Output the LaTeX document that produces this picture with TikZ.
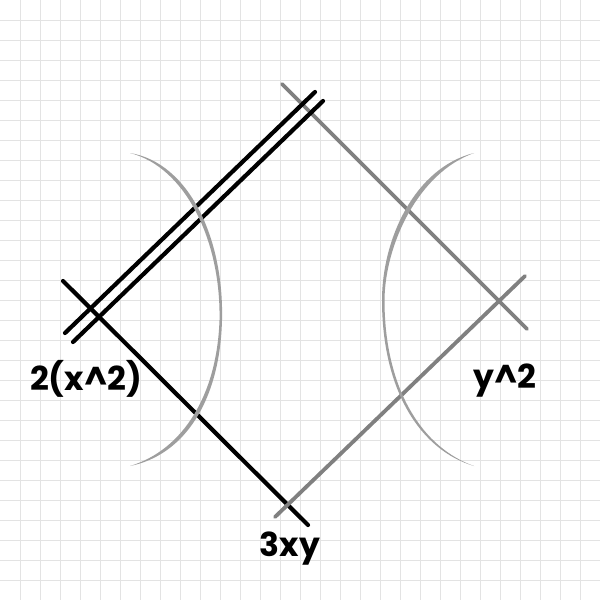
\documentclass[tikz,border=0pt]{standalone}
\usepackage{fontspec}
\setmainfont{Poppins}
\begin{document}
\begin{tikzpicture}[x=1pt,y=-1pt,
  gridline/.style={draw=black!11,line width=0.9pt},
  blackline/.style={draw=black,line width=4.2pt,line cap=round},
  grayline/.style={draw=black!50,line width=3.8pt,line cap=round},
  arcline/.style={fill=black!38,draw=none},
  lbl/.style={font=\fontsize{33}{36}\selectfont\bfseries,text=black,inner sep=0pt}]
\useasboundingbox (0,0) rectangle (600,600);
\fill[white] (0,0) rectangle (600,600);
\foreach \i in {20,40,...,580}{
  \draw[gridline] (\i,0) -- (\i,600);
  \draw[gridline] (0,\i) -- (600,\i);
}
% endpoints
\coordinate (L1) at (63,281);
\coordinate (L2) at (308,525);
\coordinate (G1a) at (282,84);
\coordinate (G1b) at (527,329);
\coordinate (G2a) at (275,517);
\coordinate (G2b) at (525,276);
\coordinate (D1a) at (315,92);
\coordinate (D1b) at (65,333);
\coordinate (D2a) at (323,101);
\coordinate (D2b) at (73,342);
% lines
\draw[blackline] (L1) -- (L2);
\draw[grayline] (G1a) -- (G1b);
\draw[grayline] (G2a) -- (G2b);
\draw[blackline] (D1a) -- (D1b);
\draw[blackline] (D2a) -- (D2b);
% arcs (tapered strokes)
\fill[arcline] (130,153) .. controls (190,163) and (224,240) .. (222,320)
  .. controls (220,400) and (185,455) .. (130,466)
  .. controls (183,450) and (217,395) .. (219.5,320)
  .. controls (221,240) and (185,167) .. (130,153) -- cycle;
\fill[arcline] (474,153) .. controls (414,168) and (382,240) .. (382,300)
  .. controls (382,390) and (420,450) .. (474,466)
  .. controls (423,448) and (384.5,390) .. (384.5,300)
  .. controls (385,245) and (418,173) .. (474,153) -- cycle;
% labels
\node[lbl] (a) at (86,379) {2(x\^{}2)};
\node[lbl] (b) at (290,549) {3xy};
\node[lbl] (c) at (505,381) {y\^{}2};
\end{tikzpicture}
\end{document}
